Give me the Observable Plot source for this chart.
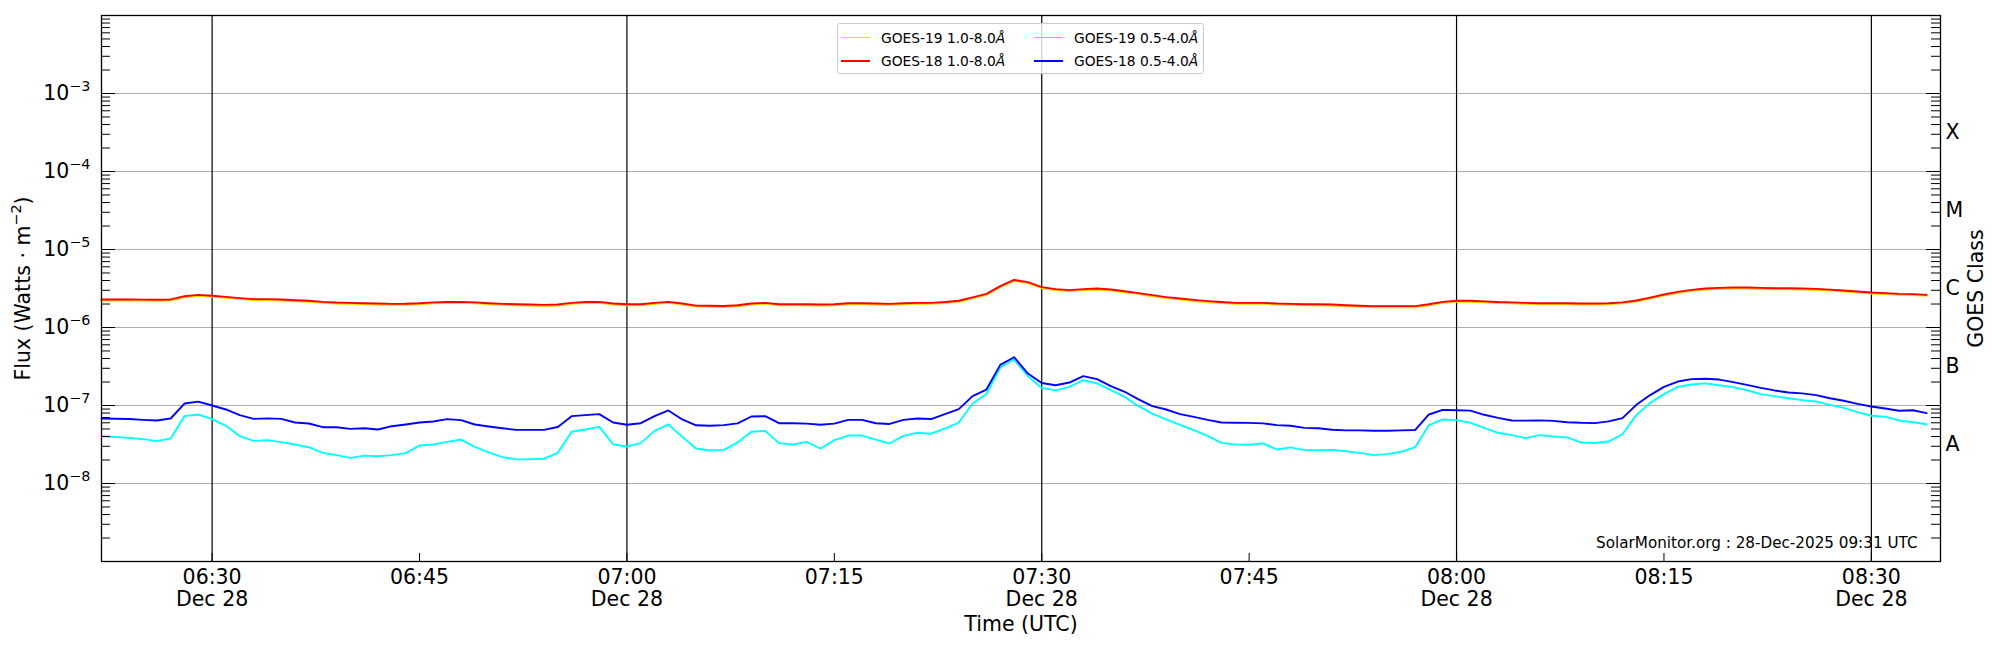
<!DOCTYPE html>
<html>
<head>
<meta charset="utf-8">
<script src="https://cdn.jsdelivr.net/npm/d3@7"></script>
<script src="https://cdn.jsdelivr.net/npm/@observablehq/plot@0.6"></script>
<style>
  body { margin: 0; background: #fff; }
  #wrap { position: relative; width: 2000px; height: 650px; font-family: "DejaVu Sans", sans-serif; }
  #legend { position: absolute; left: 837px; top: 23px; width: 367px; height: 51px; box-sizing: border-box;
            border: 1px solid #cccccc; border-radius: 3px; background: rgba(255,255,255,0.8); }
  .lgline { position: absolute; height: 1.6px; width: 29px; }
  .lgtext { position: absolute; height: 16px; line-height: 16px; font-size: 13.8px; color: #000; white-space: nowrap; font-family: "DejaVu Sans", sans-serif; }
</style>
</head>
<body>
<div id="wrap"></div>
<script>
// ---- data (1-minute cadence starting 2025-12-28 06:22 UTC) ----
const startTime = "2025-12-28T06:22:00Z";
const cadenceMinutes = 1;

// 1.0-8.0 Å fluxes, in units of 1e-6 W/m^2
const goes19Long = [
  2.22,2.22,2.22,2.21,2.20,2.22,2.44,2.54,2.47,2.40,
  2.31,2.24,2.24,2.22,2.17,2.13,2.07,2.03,2.01,1.99,
  1.97,1.95,1.96,1.99,2.04,2.06,2.07,2.04,1.99,1.95,
  1.93,1.91,1.89,1.91,2.01,2.06,2.07,1.97,1.93,1.93,
  2.01,2.07,1.97,1.85,1.84,1.83,1.87,1.97,2.01,1.93,
  1.93,1.93,1.91,1.93,1.99,1.99,1.97,1.95,1.99,2.01,
  2.01,2.06,2.13,2.36,2.62,3.29,3.96,3.70,3.19,3.01,
  2.92,3.01,3.07,2.98,2.83,2.68,2.52,2.38,2.28,2.19,
  2.11,2.06,2.01,2.01,2.01,1.97,1.95,1.93,1.93,1.91,
  1.87,1.84,1.82,1.82,1.82,1.82,1.93,2.07,2.13,2.13,
  2.10,2.06,2.04,2.01,1.99,1.99,1.99,1.97,1.97,1.99,
  2.04,2.15,2.35,2.57,2.77,2.95,3.07,3.12,3.15,3.15,
  3.12,3.09,3.09,3.07,3.04,2.97,2.89,2.81,2.73,2.68,
  2.62,2.60,2.54
];
const goes18Long = [
  2.29,2.29,2.29,2.28,2.27,2.29,2.52,2.62,2.55,2.47,
  2.38,2.31,2.31,2.29,2.24,2.20,2.13,2.09,2.07,2.05,
  2.03,2.01,2.02,2.05,2.10,2.12,2.13,2.10,2.05,2.01,
  1.99,1.97,1.95,1.97,2.07,2.12,2.13,2.03,1.99,1.99,
  2.07,2.13,2.03,1.91,1.90,1.89,1.93,2.03,2.07,1.99,
  1.99,1.99,1.97,1.99,2.05,2.05,2.03,2.01,2.05,2.07,
  2.07,2.12,2.20,2.43,2.70,3.39,4.08,3.81,3.29,3.10,
  3.01,3.10,3.16,3.07,2.92,2.76,2.60,2.45,2.35,2.26,
  2.18,2.12,2.07,2.07,2.07,2.03,2.01,1.99,1.99,1.97,
  1.93,1.90,1.88,1.88,1.88,1.88,1.99,2.13,2.20,2.20,
  2.16,2.12,2.10,2.07,2.05,2.05,2.05,2.03,2.03,2.05,
  2.10,2.22,2.42,2.65,2.86,3.04,3.16,3.22,3.25,3.25,
  3.22,3.19,3.19,3.16,3.13,3.06,2.98,2.90,2.81,2.76,
  2.70,2.68,2.62
];
// 0.5-4.0 Å fluxes, in units of 1e-8 W/m^2
const goes19Short = [
  4.05,3.95,3.85,3.70,3.49,3.77,7.30,7.67,6.68,5.49,
  4.05,3.52,3.60,3.39,3.16,2.92,2.47,2.31,2.13,2.28,
  2.24,2.31,2.45,3.07,3.16,3.42,3.66,2.95,2.50,2.18,
  2.05,2.04,2.08,2.47,4.60,4.92,5.32,3.19,2.98,3.29,
  4.73,5.71,3.96,2.81,2.65,2.70,3.36,4.60,4.73,3.29,
  3.16,3.42,2.81,3.60,4.12,4.12,3.66,3.26,4.08,4.47,
  4.35,5.07,6.05,10.6,14.0,30.7,38.9,23.8,16.8,15.6,
  17.3,21.1,19.2,15.7,12.9,9.80,7.88,6.62,5.65,4.83,
  4.08,3.32,3.16,3.14,3.26,2.73,2.90,2.68,2.68,2.70,
  2.59,2.47,2.31,2.38,2.55,2.92,5.60,6.62,6.50,6.00,
  5.17,4.47,4.17,3.81,4.17,4.00,3.90,3.36,3.30,3.45,
  4.28,7.52,10.8,14.0,17.3,18.6,19.2,18.2,17.2,15.7,
  14.0,13.2,12.4,11.7,11.3,10.2,9.34,8.22,7.38,7.20,
  6.43,6.10,5.76
];
const goes18Short = [
  6.81,6.75,6.70,6.55,6.43,6.81,10.6,11.2,10.0,8.89,
  7.52,6.74,6.84,6.74,6.05,5.88,5.27,5.27,5.02,5.10,
  4.92,5.43,5.71,6.05,6.24,6.68,6.50,5.71,5.38,5.10,
  4.87,4.87,4.87,5.30,7.30,7.52,7.75,6.05,5.66,5.93,
  7.30,8.63,6.62,5.58,5.50,5.60,5.90,7.23,7.30,5.93,
  5.93,5.86,5.66,5.86,6.55,6.55,5.93,5.80,6.55,6.80,
  6.70,7.74,8.98,13.2,16.0,33.2,41.6,25.7,19.4,18.2,
  19.7,23.8,21.8,17.7,15.0,12.0,9.80,8.89,7.74,7.16,
  6.55,6.05,6.00,5.98,5.90,5.60,5.50,5.17,5.10,4.88,
  4.80,4.80,4.75,4.75,4.80,4.85,7.67,8.80,8.70,8.60,
  7.60,6.95,6.43,6.40,6.45,6.35,6.11,6.00,5.95,6.25,
  6.89,10.2,13.6,17.3,20.3,21.8,22.0,21.5,19.9,18.4,
  16.8,15.6,14.7,14.3,13.6,12.4,11.5,10.5,9.70,9.16,
  8.55,8.70,7.98
];

const seriesNames = ["GOES-19 1.0-8.0Å", "GOES-18 1.0-8.0Å", "GOES-19 0.5-4.0Å", "GOES-18 0.5-4.0Å"];
const seriesColors = ["#ffd700", "#ff0000", "#00ffff", "#0000ff"];
const seriesUnits = [1e-6, 1e-6, 1e-8, 1e-8];
const seriesValues = [goes19Long, goes18Long, goes19Short, goes18Short];

const classLetters = ["A", "B", "C", "M", "X"];
const classExponents = [-7.5, -6.5, -5.5, -4.5, -3.5];
const decadeExponents = [-8, -7, -6, -5, -4, -3];
const timeDomain = ["2025-12-28T06:22:00Z", "2025-12-28T08:35:00Z"];
const fluxDomain = [1e-9, 1e-2];
const tickFirst = "2025-12-28T06:30:00Z";
const tickLast = "2025-12-28T08:30:00Z";
const yLabel = "Flux (Watts · m^{−2})";
const xLabel = "Time (UTC)";
const rightLabel = "GOES Class";
const stamp = "SolarMonitor.org : 28-Dec-2025 09:31 UTC";

// ---- layout ----
const W = 2000, H = 650, mL = 101, mR = 60, mT = 15, mB = 89;
const innerW = W - mL - mR, innerH = H - mT - mB;

// ---- build table ----
const t0 = new Date(startTime).getTime();
const rows = [];
seriesValues.forEach((vals, s) => {
  vals.forEach((v, i) => rows.push({time: new Date(t0 + i * cadenceMinutes * 60000), flux: v * seriesUnits[s], series: seriesNames[s]}));
});

const decades = decadeExponents.map(e => Math.pow(10, e));
const classTicks = classExponents.map(e => Math.pow(10, e));
const minorTicks = [];
for (let e = -9; e <= -3; e++) for (let m = 2; m <= 9; m++) minorTicks.push(m * Math.pow(10, e));
const majorTicks = [-9, -8, -7, -6, -5, -4, -3, -2].map(e => Math.pow(10, e));
const quarterHours = d3.utcMinute.every(15).range(new Date(tickFirst), new Date(new Date(tickLast).getTime() + 1));
const halfHours = d3.utcMinute.every(30).range(new Date(tickFirst), new Date(new Date(tickLast).getTime() + 1));
const fmtHM = d3.utcFormat("%H:%M");
const fmtDay = d3.utcFormat("%b %d");
const supFmt = v => "10^{−" + Math.round(-Math.log10(v)) + "}";

const minorLen = 9, majorLen = 14, xTickLen = 8;

const chart = Plot.plot({
  width: W,
  height: H,
  marginLeft: mL,
  marginRight: mR,
  marginTop: mT,
  marginBottom: mB,
  style: {fontFamily: "DejaVu Sans", fontSize: "20.5px", color: "#000", background: "#fff", overflow: "visible"},
  x: {type: "utc", domain: timeDomain.map(d => new Date(d))},
  y: {type: "log", domain: fluxDomain},
  color: {domain: seriesNames, range: seriesColors},
  marks: [
    Plot.ruleY(decades, {stroke: "#b0b0b0", strokeWidth: 1}),
    Plot.ruleX(halfHours, {stroke: "#000", strokeWidth: 1.2}),
    Plot.lineY(rows, {x: "time", y: "flux", z: "series", stroke: "series", strokeWidth: 1.9}),
    // inward ticks on left and right
    Plot.tickY(minorTicks, {y: d => d, insetRight: innerW - minorLen, stroke: "#000", strokeWidth: 1}),
    Plot.tickY(majorTicks, {y: d => d, insetRight: innerW - majorLen, stroke: "#000", strokeWidth: 1}),
    Plot.tickY(minorTicks, {y: d => d, insetLeft: innerW - minorLen, stroke: "#000", strokeWidth: 1}),
    Plot.tickY(majorTicks, {y: d => d, insetLeft: innerW - majorLen, stroke: "#000", strokeWidth: 1}),
    // inward ticks on bottom
    Plot.tickX(quarterHours, {x: d => d, insetTop: innerH - xTickLen, stroke: "#000", strokeWidth: 1}),
    // left axis labels
    Plot.axisY(decades, {anchor: "left", tickSize: 0, tickPadding: 11, tickFormat: supFmt, label: null}),
    // right axis: GOES class letters
    Plot.text(classTicks, {y: d => d, text: (d, i) => classLetters[i], frameAnchor: "right", dx: 5, textAnchor: "start", fontSize: 20.5}),
    // bottom axis labels
    Plot.axisX(quarterHours, {anchor: "bottom", tickSize: 0, tickPadding: 6, lineHeight: 1.1,
      tickFormat: d => d.getUTCMinutes() % 30 === 0 ? fmtHM(d) + "\n" + fmtDay(d) : fmtHM(d), label: null}),
    Plot.frame({stroke: "#000", strokeWidth: 1.3}),
    // labels
    Plot.text([yLabel], {frameAnchor: "left", rotate: -90, dx: -78, textAnchor: "middle", lineAnchor: "middle", fontSize: 20.5}),
    Plot.text([rightLabel], {frameAnchor: "right", rotate: -90, dx: 36, textAnchor: "middle", lineAnchor: "middle", fontSize: 20.5}),
    Plot.text([xLabel], {frameAnchor: "bottom", dy: 63, textAnchor: "middle", lineAnchor: "middle", fontSize: 20.5}),
    Plot.text([stamp], {frameAnchor: "bottom-right", dx: -23, dy: -18, textAnchor: "end", lineAnchor: "middle", fontSize: 15.2})
  ]
});

// convert "a^{b}" into superscript tspans
function supify(svg) {
  const NS = "http://www.w3.org/2000/svg";
  for (const el of svg.querySelectorAll("text")) {
    if (el.querySelector("tspan")) continue;
    const s = el.textContent;
    if (!s.includes("^{")) continue;
    const fs = parseFloat(getComputedStyle(el).fontSize) || 20;
    const shift = 0.42 * fs;
    el.textContent = "";
    const re = /\^\{([^}]*)\}/g;
    let last = 0, m;
    while ((m = re.exec(s))) {
      if (m.index > last) {
        const a = document.createElementNS(NS, "tspan");
        if (last > 0) a.setAttribute("dy", shift);
        a.textContent = s.slice(last, m.index);
        el.appendChild(a);
      }
      const t = document.createElementNS(NS, "tspan");
      t.setAttribute("dy", -shift);
      t.setAttribute("font-size", (0.7 * fs) + "px");
      t.textContent = m[1];
      el.appendChild(t);
      last = re.lastIndex;
    }
    if (last < s.length) {
      const b = document.createElementNS(NS, "tspan");
      b.setAttribute("dy", shift);
      b.textContent = s.slice(last);
      el.appendChild(b);
    }
  }
}

const wrap = document.getElementById("wrap");
wrap.appendChild(chart);
supify(chart);

// legend (overlaid inside the plot area, two columns)
const legend = document.createElement("div");
legend.id = "legend";
wrap.appendChild(legend);
const legendCols = [[0, 1], [2, 3]];
const colLeft = [841, 1034];
const rowMid = [37.7, 61];
legendCols.forEach((col, c) => col.forEach((s, r) => {
  const ln = document.createElement("div");
  ln.className = "lgline";
  ln.style.left = colLeft[c] + "px";
  ln.style.top = (rowMid[r] - 0.8) + "px";
  ln.style.background = seriesColors[s];
  wrap.appendChild(ln);
  const tx = document.createElement("div");
  tx.className = "lgtext";
  tx.style.left = (colLeft[c] + 40) + "px";
  tx.style.top = (rowMid[r] - 8) + "px";
  const name = seriesNames[s];
  tx.innerHTML = name.slice(0, -1) + "<i>" + name.slice(-1) + "</i>";
  wrap.appendChild(tx);
}));
</script>
</body>
</html>
